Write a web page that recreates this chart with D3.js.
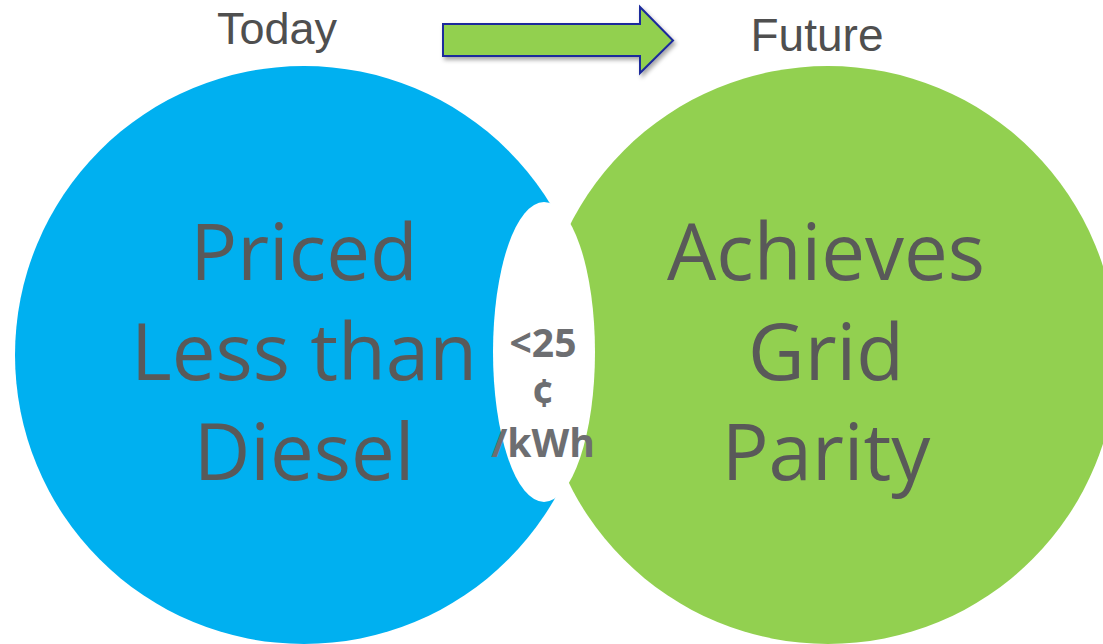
<!DOCTYPE html>
<html>
<head>
<meta charset="utf-8">
<script src="https://cdn.jsdelivr.net/npm/d3@7"></script>
<style>
  html, body { margin: 0; padding: 0; background: #ffffff; }
  svg { display: block; }
</style>
</head>
<body>
<div id="chart"></div>
<script>
// Stages shown above the two circles
const stages = ['Today', 'Future'];
// Text inside each circle, one entry per line
const todayLines = ['Priced', 'Less than', 'Diesel'];
const futureLines = ['Achieves', 'Grid', 'Parity'];
// Text in the overlap
const overlapLines = ['<25', '\u00a2', '/kWh'];
// Circle colours by stage
const stageColors = ['#00b0f0', '#92d050'];

const width = 1103;
const height = 644;

const svg = d3.select('#chart')
  .append('svg')
  .attr('width', width)
  .attr('height', height);

// drop shadow for the arrow
const defs = svg.append('defs');
defs.append('filter')
  .attr('id', 'shadow')
  .attr('x', '-10%').attr('y', '-20%')
  .attr('width', '130%').attr('height', '160%')
  .append('feDropShadow')
  .attr('dx', 2).attr('dy', 3)
  .attr('stdDeviation', 2)
  .attr('flood-color', '#000')
  .attr('flood-opacity', 0.35);

// position of each circle centre
const x = d3.scalePoint().domain(stages).range([304, 828]);
const radius = 289;
const cy = 355;

svg.selectAll('circle.stage')
  .data(stages)
  .enter()
  .append('circle')
  .attr('class', 'stage')
  .attr('cx', d => x(d))
  .attr('cy', cy)
  .attr('r', radius)
  .attr('fill', (d, i) => stageColors[i]);

// white lens in the middle
const midX = (x(stages[0]) + x(stages[1])) / 2;
svg.append('ellipse')
  .attr('cx', midX - 22)
  .attr('cy', cy - 3)
  .attr('rx', 51)
  .attr('ry', 150)
  .attr('fill', '#ffffff');

// stage titles
const titleY = [44, 51];
const titleX = [277, 817];
svg.selectAll('text.title')
  .data(stages)
  .enter()
  .append('text')
  .attr('class', 'title')
  .attr('x', (d, i) => titleX[i])
  .attr('y', (d, i) => titleY[i])
  .attr('text-anchor', 'middle')
  .attr('font-family', 'Liberation Sans, Arial, sans-serif')
  .attr('font-size', (d, i) => i === 0 ? 45 : 46)
  .attr('fill', '#4f4f4f')
  .text(d => d);

// arrow from Today to Future
const arrow = d3.path();
arrow.moveTo(443, 24);
arrow.lineTo(640, 24);
arrow.lineTo(640, 7);
arrow.lineTo(673, 40.5);
arrow.lineTo(640, 73);
arrow.lineTo(640, 56);
arrow.lineTo(443, 56);
arrow.closePath();
svg.append('path')
  .attr('d', arrow.toString())
  .attr('fill', '#92d050')
  .attr('stroke', '#1c2a9c')
  .attr('stroke-width', 2)
  .attr('stroke-linejoin', 'miter')
  .attr('filter', 'url(#shadow)');

// big labels in each circle
const lineY = d3.scalePoint().domain([0, 1, 2]).range([280, 480]);
const groups = [todayLines, futureLines];
groups.forEach((lines, gi) => {
  svg.append('g')
    .selectAll('text')
    .data(lines)
    .enter()
    .append('text')
    .attr('x', x(stages[gi]) + (gi === 0 ? 0 : -2))
    .attr('y', (d, i) => lineY(i))
    .attr('text-anchor', 'middle')
    .attr('font-family', 'Open Sans, sans-serif')
    .attr('font-size', 78)
    .attr('fill', '#595959')
    .text(d => d);
});

// overlap label
const overlapY = d3.scalePoint().domain([0, 1, 2]).range([357, 457]);
svg.append('g')
  .selectAll('text')
  .data(overlapLines)
  .enter()
  .append('text')
  .attr('x', midX - 23)
  .attr('y', (d, i) => overlapY(i))
  .attr('text-anchor', 'middle')
  .attr('font-family', 'Open Sans, sans-serif')
  .attr('font-weight', 700)
  .attr('font-size', 39)
  .attr('fill', '#6d6e71')
  .text(d => d);
</script>
</body>
</html>
